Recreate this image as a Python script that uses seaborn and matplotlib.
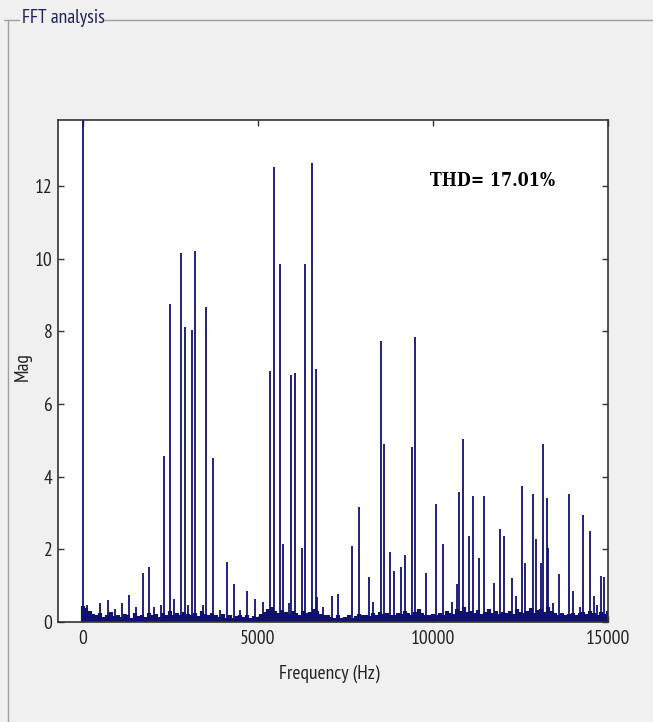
import numpy as np
import pandas as pd
import matplotlib
matplotlib.use("Agg")
import matplotlib.pyplot as plt
import seaborn as sns
from matplotlib.lines import Line2D

# ---------------- data ----------------
peak_freq = [0, 114, 503, 714, 923, 1114, 1323, 1531, 1714, 1903, 2037, 2229,
             2323, 2503, 2617, 2809, 2923, 3017, 3123, 3209, 3446, 3514, 3714,
             3931, 4114, 4323, 4494, 4694, 4914, 5160, 5360, 5457, 5646, 5731,
             5903, 5951, 6074, 6257, 6360, 6560, 6657, 6700, 6866, 7114, 7303,
             7703, 7894, 8189, 8303, 8514, 8609, 8789, 8894, 9094, 9209, 9400,
             9503, 9809, 10094, 10294, 10551, 10703, 10760, 10857, 11046, 11151,
             11331, 11457, 11751, 11931, 12037, 12246, 12360, 12543, 12637,
             12846, 12943, 13086, 13151, 13246, 13286, 13429, 13589, 13886,
             13989, 14189, 14286, 14474, 14589, 14686, 14800, 14894]
peak_mag = [100.0, 0.46, 0.52, 0.60, 0.36, 0.52, 0.74, 0.42, 1.34, 1.52, 0.42, 0.46,
            4.57, 8.75, 0.62, 10.15, 8.13, 0.47, 8.04, 10.22, 0.46, 8.66, 4.51,
            0.32, 1.66, 1.04, 0.32, 0.85, 0.62, 0.55, 6.91, 12.52, 9.85, 2.14,
            0.52, 6.80, 6.85, 2.05, 9.85, 12.63, 6.96, 0.69, 0.42, 0.71, 0.76,
            2.09, 3.17, 1.23, 0.55, 7.74, 4.90, 1.94, 1.41, 1.51, 1.84, 4.81,
            7.84, 1.36, 3.24, 2.14, 0.55, 1.04, 3.57, 5.04, 2.37, 3.48,
            1.75, 3.48, 1.08, 2.56, 2.37, 1.20, 0.71, 3.75, 1.62,
            3.52, 2.28, 1.62, 4.90, 3.42, 2.03, 0.51, 1.32, 3.52,
            0.85, 0.42, 2.95, 2.51, 0.71, 0.46, 1.27, 1.23]

noise_freq = list(range(0, 15001, 100))   # FFT bin grid
noise_mag = [0.45, 0.38, 0.30, 0.22, 0.18, 0.25, 0.15, 0.20, 0.28, 0.16, 0.20,
             0.14, 0.22, 0.18, 0.12, 0.25, 0.17, 0.20, 0.13, 0.24, 0.18,
             0.22, 0.15, 0.26, 0.19, 0.30, 0.20, 0.24, 0.18, 0.28, 0.22,
             0.20, 0.26, 0.17, 0.30, 0.22, 0.18, 0.25, 0.20, 0.14, 0.22,
             0.12, 0.18, 0.10, 0.16, 0.20, 0.13, 0.19, 0.11, 0.17, 0.14,
             0.22, 0.28, 0.35, 0.40, 0.30, 0.25, 0.32, 0.28, 0.22, 0.30,
             0.26, 0.20, 0.30, 0.24, 0.28, 0.35, 0.30, 0.22, 0.18, 0.20,
             0.15, 0.12, 0.18, 0.10, 0.14, 0.20, 0.12, 0.16, 0.22, 0.18,
             0.20, 0.16, 0.24, 0.20, 0.28, 0.22, 0.25, 0.18, 0.20, 0.26,
             0.22, 0.30, 0.25, 0.20, 0.28, 0.35, 0.24, 0.20, 0.18, 0.22,
             0.18, 0.24, 0.20, 0.30, 0.26, 0.22, 0.35, 0.30, 0.40, 0.28,
             0.30, 0.25, 0.32, 0.22, 0.28, 0.35, 0.26, 0.30, 0.22, 0.28,
             0.25, 0.30, 0.22, 0.35, 0.28, 0.24, 0.30, 0.38, 0.26, 0.32,
             0.35, 0.28, 0.40, 0.30, 0.25, 0.20, 0.24, 0.18, 0.22, 0.26,
             0.20, 0.24, 0.28, 0.22, 0.30, 0.25, 0.20, 0.28, 0.22, 0.30]

x_ticks = [0, 5000, 10000, 15000]
y_ticks = [0, 2, 4, 6, 8, 10, 12]
panel_title = "FFT analysis"
x_label = "Frequency (Hz)"
y_label = "Mag"
thd_text = "THD= 17.01%"

# ---------------- style ----------------
sns.set_theme(style="white")
plt.rcParams['font.family'] = ['PT Sans Narrow', 'DejaVu Sans']

W, H = 653, 722
BG = '#f0f0f0'
NAVY = '#10106e'
TXT = '#222222'
FS = 14

fig = plt.figure(figsize=(W / 100, H / 100), dpi=100, facecolor=BG)
ax = fig.add_axes([58 / W, 1 - 622 / H, 550 / W, 502 / H])
ax.set_facecolor('white')

df_noise = pd.DataFrame({'freq': noise_freq, 'mag': noise_mag})
df_peaks = pd.DataFrame({'freq': peak_freq, 'mag': peak_mag})

ax.vlines(df_noise['freq'], 0, df_noise['mag'], color=NAVY, linewidth=3.0)
ax.vlines(df_peaks['freq'], 0, df_peaks['mag'], color=NAVY, linewidth=1.3)

ax.set_xlim(-700, 15000)
ax.set_ylim(0, 13.82)
ax.set_xticks(x_ticks)
ax.set_xticklabels([str(v) for v in x_ticks])
ax.set_yticks(y_ticks)
ax.set_yticklabels([str(v) for v in y_ticks])

ax.tick_params(axis='both', which='both', direction='in', length=4, width=1,
               color='#333333', labelsize=FS, labelcolor=TXT,
               top=True, right=True, bottom=True, left=True)
ax.tick_params(axis='x', pad=6)
ax.tick_params(axis='y', pad=4)
for s in ax.spines.values():
    s.set_color('#333333')
    s.set_linewidth(1.2)
    s.set_visible(True)

ax.set_xlabel(x_label, fontsize=FS, color=TXT)
ax.xaxis.set_label_coords((329 - 58) / 550, (622 - 674) / 502)
ax.xaxis.label.set_va('center')
ax.set_ylabel(y_label, fontsize=FS, color=TXT)
ax.yaxis.set_label_coords((23 - 58) / 550, (622 - 367) / 502)
ax.yaxis.label.set_va('center')

ax.text(9920, 12.14, thd_text, family=['DejaVu Serif'], fontstretch='condensed',
        fontweight='bold', fontsize=12.8, color='black', ha='left', va='center')

# ---------------- panel frame (uipanel look) ----------------
def px(x, y):
    return x / W, 1 - y / H

ly = 19.5
for (x0, x1) in [(4, 19), (104, 653)]:
    a, b = px(x0, ly), px(x1, ly)
    fig.add_artist(Line2D([a[0], b[0]], [a[1], b[1]], color='#a0a0a0', lw=1.0))
a, b = px(7.5, ly), px(7.5, 722)
fig.add_artist(Line2D([a[0], b[0]], [a[1], b[1]], color='#a0a0a0', lw=1.0))
tx, ty = px(22, 18)
fig.text(tx, ty, panel_title, fontsize=FS, color='#1c2458', ha='left', va='center')

fig.savefig('out.png', dpi=100, facecolor=BG)
